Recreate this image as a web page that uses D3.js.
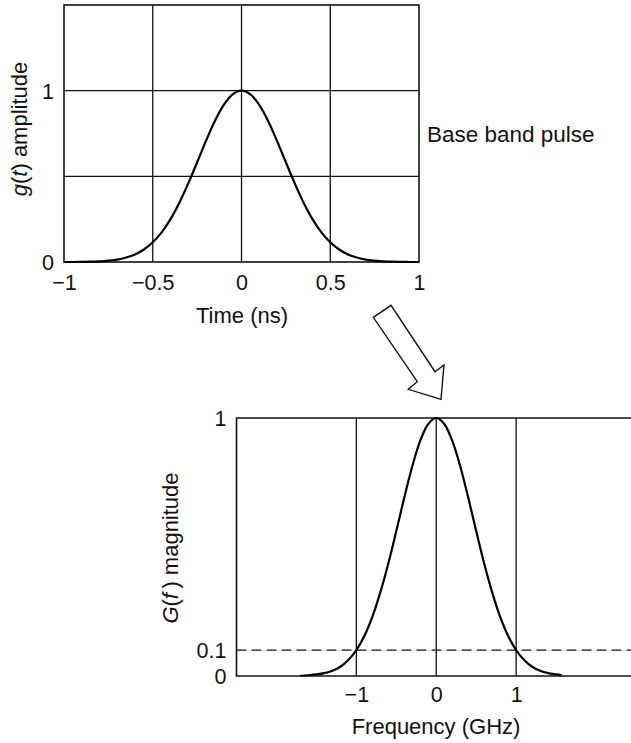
<!DOCTYPE html>
<html>
<head>
<meta charset="utf-8">
<script src="https://cdn.jsdelivr.net/npm/d3@7"></script>
<style>
  html, body { margin: 0; padding: 0; background: #fff; }
  svg { display: block; }
  text { font-family: "Liberation Sans", Arial, Helvetica, sans-serif; fill: #111; }
</style>
</head>
<body>
<svg id="fig" width="631" height="743"></svg>
<script>
// Base band pulse g(t), time in ns
const pulseTime = [-1, -0.95, -0.9, -0.85, -0.8, -0.75, -0.7, -0.65, -0.6, -0.55, -0.5, -0.45, -0.4, -0.35, -0.3, -0.25, -0.2, -0.15, -0.1, -0.05,
  0, 0.05, 0.1, 0.15, 0.2, 0.25, 0.3, 0.35, 0.4, 0.45, 0.5, 0.55, 0.6, 0.65, 0.7, 0.75, 0.8, 0.85, 0.9, 0.95, 1];
const pulseAmp = [0.000, 0.000, 0.001, 0.002, 0.004, 0.008, 0.014, 0.026, 0.044, 0.073, 0.115, 0.173, 0.250, 0.346, 0.459, 0.582, 0.707, 0.823, 0.917, 0.979,
  1.000, 0.979, 0.917, 0.823, 0.707, 0.582, 0.459, 0.346, 0.250, 0.173, 0.115, 0.073, 0.044, 0.026, 0.014, 0.008, 0.004, 0.002, 0.001, 0.000, 0.000];

// Spectrum magnitude |G(f)|, frequency in GHz
const specFreq = [-1.7, -1.6, -1.5, -1.4, -1.3, -1.2, -1.1, -1.0, -0.9, -0.8, -0.7, -0.6, -0.5, -0.4, -0.3, -0.2, -0.1,
  0, 0.1, 0.2, 0.3, 0.4, 0.5, 0.6, 0.7, 0.8, 0.9, 1.0, 1.1, 1.2, 1.3, 1.4, 1.5, 1.57];
const specMag = [0.001, 0.003, 0.006, 0.011, 0.020, 0.036, 0.062, 0.100, 0.155, 0.229, 0.324, 0.436, 0.562, 0.692, 0.813, 0.912, 0.977,
  1.000, 0.977, 0.912, 0.813, 0.692, 0.562, 0.436, 0.324, 0.229, 0.155, 0.100, 0.062, 0.036, 0.020, 0.011, 0.006, 0.003];

// Axis ticks and guide levels
const timeTicks = [-1, -0.5, 0, 0.5, 1];
const timeTickLabels = ["\u22121", "\u22120.5", "0", "0.5", "1"];
const ampTicks = [0, 1];
const timeGrid = [-0.5, 0, 0.5];
const ampGrid = [0.5, 1];
const freqTicks = [-1, 0, 1];
const freqTickLabels = ["\u22121", "0", "1"];
const magTicks = [0, 0.1, 1];
const magTickLabels = ["0", "0.1", "1"];
const freqGrid = [-1, 0, 1];
const bandLevel = 0.1;

const svg = d3.select("#fig");
const FS = 22;      // axis titles and annotation
const TFS = 21.5;   // tick labels

// ---------- Upper panel: time-domain pulse ----------
const x1 = d3.scaleLinear().domain([-1, 1]).range([64, 419]);
const y1 = d3.scaleLinear().domain([0, 1.5]).range([262, 5]);
const upper = svg.append("g");

upper.selectAll("line.vg").data(timeGrid).join("line")
  .attr("x1", d => x1(d)).attr("x2", d => x1(d))
  .attr("y1", y1(0)).attr("y2", y1(1.5))
  .attr("stroke", "#111").attr("stroke-width", 1.3);
upper.selectAll("line.hg").data(ampGrid).join("line")
  .attr("x1", x1(-1)).attr("x2", x1(1))
  .attr("y1", d => y1(d)).attr("y2", d => y1(d))
  .attr("stroke", "#111").attr("stroke-width", 1.3);
upper.append("rect")
  .attr("x", x1(-1)).attr("y", y1(1.5))
  .attr("width", x1(1) - x1(-1)).attr("height", y1(0) - y1(1.5))
  .attr("fill", "none").attr("stroke", "#111").attr("stroke-width", 1.6);

const pulseLine = d3.line()
  .x((d, i) => x1(pulseTime[i]))
  .y(d => y1(d))
  .curve(d3.curveCatmullRom.alpha(0.5));
upper.append("path").datum(pulseAmp)
  .attr("d", pulseLine)
  .attr("fill", "none").attr("stroke", "#000").attr("stroke-width", 2.2);

// time axis labels
const xAx1 = d3.axisBottom(x1).tickValues(timeTicks)
  .tickFormat((d, i) => timeTickLabels[i]).tickSize(0).tickPadding(0);
const gx1 = upper.append("g").attr("transform", `translate(0,${y1(0)})`).call(xAx1);
gx1.select(".domain").remove();
gx1.selectAll("text").attr("font-size", TFS).attr("dy", null).attr("y", 28)
  .attr("font-family", "Liberation Sans, Arial, sans-serif").attr("fill", "#111");

const yAx1 = d3.axisLeft(y1).tickValues(ampTicks).tickFormat(d3.format("d"))
  .tickSize(0).tickPadding(0);
const gy1 = upper.append("g").attr("transform", `translate(${x1(-1)},0)`).call(yAx1);
gy1.select(".domain").remove();
gy1.selectAll("text").attr("font-size", TFS).attr("x", -10).attr("dy", "0.36em")
  .attr("font-family", "Liberation Sans, Arial, sans-serif").attr("fill", "#111");

upper.append("text")
  .attr("x", 242).attr("y", 323).attr("text-anchor", "middle").attr("font-size", FS)
  .text("Time (ns)");

const yl1 = upper.append("text")
  .attr("transform", "translate(27,129) rotate(-90)")
  .attr("text-anchor", "middle").attr("font-size", FS);
yl1.append("tspan").attr("font-style", "italic").text("g");
yl1.append("tspan").text("(");
yl1.append("tspan").attr("font-style", "italic").text("t");
yl1.append("tspan").text(") amplitude");

upper.append("text")
  .attr("x", 427).attr("y", 142).attr("font-size", 22.5)
  .text("Base band pulse");

// ---------- Transform arrow ----------
const arrowPts = [[373.3, 317.3], [391, 305.3], [435, 371.7], [444, 365], [441, 399.3], [408.3, 389.3], [417.3, 381.7]];
svg.append("path")
  .attr("d", d3.line()(arrowPts) + "Z")
  .attr("fill", "#fff").attr("stroke", "#111").attr("stroke-width", 1.4)
  .attr("stroke-linejoin", "miter");

// ---------- Lower panel: spectrum ----------
const x2 = d3.scaleLinear().domain([-2.5, 2.5]).range([236.5, 636]);
const y2 = d3.scaleLinear().domain([0, 1]).range([676, 418]);
const lower = svg.append("g");

lower.selectAll("line.vg").data(freqGrid).join("line")
  .attr("x1", d => x2(d)).attr("x2", d => x2(d))
  .attr("y1", y2(0)).attr("y2", y2(1))
  .attr("stroke", "#111").attr("stroke-width", 1.3);

lower.append("line")
  .attr("x1", x2(-2.5)).attr("x2", x2(2.5)).attr("y1", y2(bandLevel)).attr("y2", y2(bandLevel))
  .attr("stroke", "#111").attr("stroke-width", 1.3).attr("stroke-dasharray", "10,5");

lower.append("path")
  .attr("d", `M${x2(2.5)},${y2(1)}H${x2(-2.5)}V${y2(0)}H${x2(2.5)}`)
  .attr("fill", "none").attr("stroke", "#111").attr("stroke-width", 1.6);

const specLine = d3.line()
  .x((d, i) => x2(specFreq[i]))
  .y(d => y2(d))
  .curve(d3.curveCatmullRom.alpha(0.5));
lower.append("path").datum(specMag)
  .attr("d", specLine)
  .attr("fill", "none").attr("stroke", "#000").attr("stroke-width", 2.2);

const xAx2 = d3.axisBottom(x2).tickValues(freqTicks)
  .tickFormat((d, i) => freqTickLabels[i]).tickSize(0).tickPadding(0);
const gx2 = lower.append("g").attr("transform", `translate(0,${y2(0)})`).call(xAx2);
gx2.select(".domain").remove();
gx2.selectAll("text").attr("font-size", TFS).attr("dy", null).attr("y", 26)
  .attr("font-family", "Liberation Sans, Arial, sans-serif").attr("fill", "#111");

const yAx2 = d3.axisLeft(y2).tickValues(magTicks)
  .tickFormat((d, i) => magTickLabels[i]).tickSize(0).tickPadding(0);
const gy2 = lower.append("g").attr("transform", `translate(${x2(-2.5)},0)`).call(yAx2);
gy2.select(".domain").remove();
gy2.selectAll("text").attr("font-size", TFS).attr("x", -10).attr("dy", "0.36em")
  .attr("font-family", "Liberation Sans, Arial, sans-serif").attr("fill", "#111");

lower.append("text")
  .attr("x", 436).attr("y", 734).attr("text-anchor", "middle").attr("font-size", FS)
  .text("Frequency (GHz)");

const yl2 = lower.append("text")
  .attr("transform", "translate(178,548) rotate(-90)")
  .attr("text-anchor", "middle").attr("font-size", FS);
yl2.append("tspan").attr("font-style", "italic").text("G");
yl2.append("tspan").text("(");
yl2.append("tspan").attr("font-style", "italic").text("f");
yl2.append("tspan").text("\u2009) magnitude");
</script>
</body>
</html>
